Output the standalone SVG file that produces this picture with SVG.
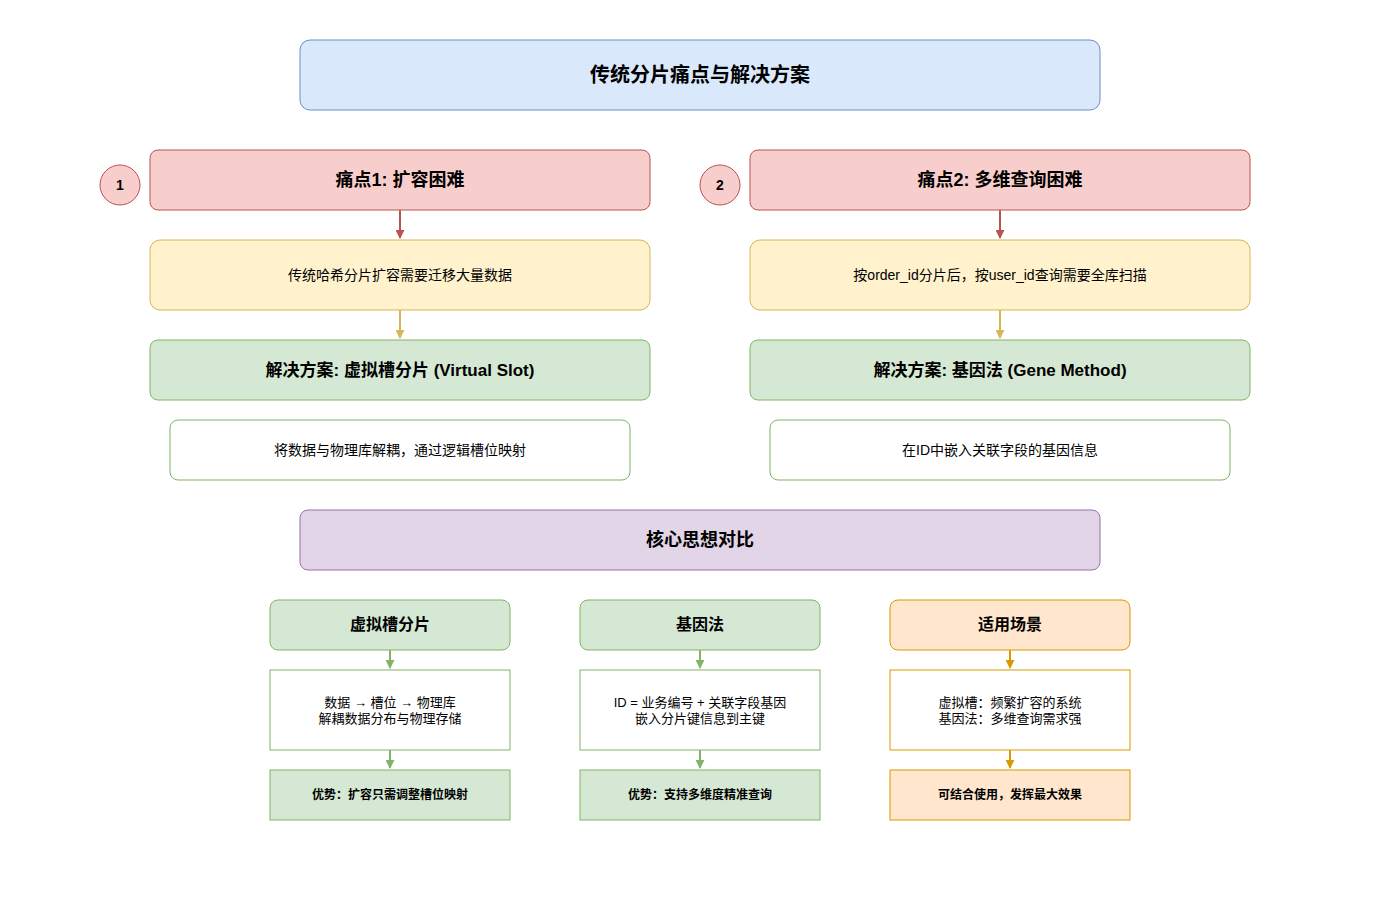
<svg xmlns="http://www.w3.org/2000/svg" width="1400" height="900" viewBox="0 0 1400 900">
<style>
text{font-family:"Liberation Sans","Noto Sans CJK SC",sans-serif;text-anchor:middle;dominant-baseline:central;fill:#000}
.b{font-weight:bold}
.red{fill:#f8cecc;stroke:#b85450}.yel{fill:#fff2cc;stroke:#d6b656}.grn{fill:#d5e8d4;stroke:#82b366}
.wg{fill:#fff;stroke:#82b366}.blu{fill:#dae8fc;stroke:#6c8ebf}.pur{fill:#e1d5e7;stroke:#9673a6}
.org{fill:#ffe6cc;stroke:#d79b00}.wo{fill:#fff;stroke:#d79b00}
</style>
<defs>
<marker id="mr" viewBox="0 0 10 10" refX="9" refY="5" markerWidth="4.5" markerHeight="4.5" orient="auto"><path d="M0,0L10,5L0,10z" fill="#b85450"/></marker>
<marker id="my" viewBox="0 0 10 10" refX="9" refY="5" markerWidth="4.5" markerHeight="4.5" orient="auto"><path d="M0,0L10,5L0,10z" fill="#d6b656"/></marker>
<marker id="mg" viewBox="0 0 10 10" refX="9" refY="5" markerWidth="4.5" markerHeight="4.5" orient="auto"><path d="M0,0L10,5L0,10z" fill="#82b366"/></marker>
<marker id="mo" viewBox="0 0 10 10" refX="9" refY="5" markerWidth="4.5" markerHeight="4.5" orient="auto"><path d="M0,0L10,5L0,10z" fill="#d79b00"/></marker>
</defs>
<rect width="1400" height="900" fill="#fff"/>
<g id="title"><rect class="blu" x="300" y="40" width="800" height="70" rx="10"/><text class="b" x="700" y="75" font-size="20">传统分片痛点与解决方案</text></g>
<g id="c1"><circle class="red" cx="120" cy="185" r="20"/><text class="b" x="120" y="185" font-size="14">1</text></g>
<g id="c2"><circle class="red" cx="720" cy="185" r="20"/><text class="b" x="720" y="185" font-size="14">2</text></g>
<g id="p1"><rect class="red" x="150" y="150" width="500" height="60" rx="8"/><text class="b" x="400" y="180" font-size="18">痛点1: 扩容困难</text></g>
<g id="p2"><rect class="red" x="750" y="150" width="500" height="60" rx="8"/><text class="b" x="1000" y="180" font-size="18">痛点2: 多维查询困难</text></g>
<g id="y1"><rect class="yel" x="150" y="240" width="500" height="70" rx="10"/><text x="400" y="275" font-size="14">传统哈希分片扩容需要迁移大量数据</text></g>
<g id="y2"><rect class="yel" x="750" y="240" width="500" height="70" rx="10"/><text x="1000" y="275" font-size="14">按order_id分片后，按user_id查询需要全库扫描</text></g>
<g id="s1"><rect class="grn" x="150" y="340" width="500" height="60" rx="8"/><text class="b" x="400" y="370" font-size="17">解决方案: 虚拟槽分片 (Virtual Slot)</text></g>
<g id="s2"><rect class="grn" x="750" y="340" width="500" height="60" rx="8"/><text class="b" x="1000" y="370" font-size="17">解决方案: 基因法 (Gene Method)</text></g>
<g id="d1"><rect class="wg" x="170" y="420" width="460" height="60" rx="8"/><text x="400" y="450" font-size="14">将数据与物理库解耦，通过逻辑槽位映射</text></g>
<g id="d2"><rect class="wg" x="770" y="420" width="460" height="60" rx="8"/><text x="1000" y="450" font-size="14">在ID中嵌入关联字段的基因信息</text></g>
<g id="core"><rect class="pur" x="300" y="510" width="800" height="60" rx="8"/><text class="b" x="700" y="540" font-size="18">核心思想对比</text></g>
<g id="h1"><rect class="grn" x="270" y="600" width="240" height="50" rx="8"/><text class="b" x="390" y="624" font-size="16">虚拟槽分片</text></g>
<g id="h2"><rect class="grn" x="580" y="600" width="240" height="50" rx="8"/><text class="b" x="700" y="624" font-size="16">基因法</text></g>
<g id="h3"><rect class="org" x="890" y="600" width="240" height="50" rx="8"/><text class="b" x="1010" y="624" font-size="16">适用场景</text></g>
<g id="m1"><rect class="wg" x="270" y="670" width="240" height="80"/><text x="390" y="702" font-size="13">数据 → 槽位 → 物理库</text><text x="390" y="718" font-size="13">解耦数据分布与物理存储</text></g>
<g id="m2"><rect class="wg" x="580" y="670" width="240" height="80"/><text x="700" y="702" font-size="13">ID = 业务编号 + 关联字段基因</text><text x="700" y="718" font-size="13">嵌入分片键信息到主键</text></g>
<g id="m3"><rect class="wo" x="890" y="670" width="240" height="80"/><text x="1010" y="702" font-size="13">虚拟槽：频繁扩容的系统</text><text x="1010" y="718" font-size="13">基因法：多维查询需求强</text></g>
<g id="a1"><rect class="grn" x="270" y="770" width="240" height="50"/><text class="b" x="390" y="795" font-size="12">优势：扩容只需调整槽位映射</text></g>
<g id="a2"><rect class="grn" x="580" y="770" width="240" height="50"/><text class="b" x="700" y="795" font-size="12">优势：支持多维度精准查询</text></g>
<g id="a3"><rect class="org" x="890" y="770" width="240" height="50"/><text class="b" x="1010" y="795" font-size="12">可结合使用，发挥最大效果</text></g>
<g id="connectors" stroke-width="2" fill="none">
<path d="M400 210V238" stroke="#b85450" marker-end="url(#mr)"/>
<path d="M1000 210V238" stroke="#b85450" marker-end="url(#mr)"/>
<path d="M400 310V338" stroke="#d6b656" marker-end="url(#my)"/>
<path d="M1000 310V338" stroke="#d6b656" marker-end="url(#my)"/>
<path d="M390 650V668M390 750V768" stroke="#82b366" marker-end="url(#mg)"/>
<path d="M390 650V668" stroke="#82b366" marker-end="url(#mg)"/>
<path d="M700 650V668" stroke="#82b366" marker-end="url(#mg)"/>
<path d="M700 750V768" stroke="#82b366" marker-end="url(#mg)"/>
<path d="M1010 650V668" stroke="#d79b00" marker-end="url(#mo)"/>
<path d="M1010 750V768" stroke="#d79b00" marker-end="url(#mo)"/>
</g>
</svg>
